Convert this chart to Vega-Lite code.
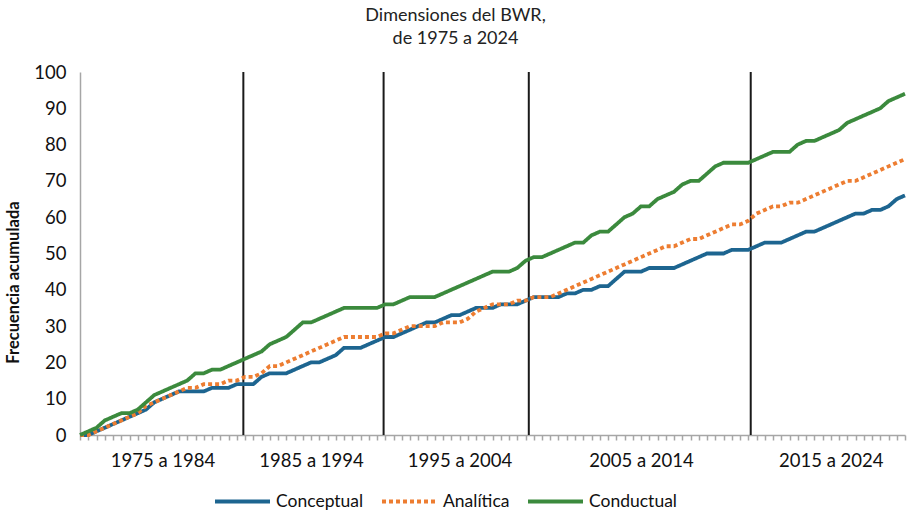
{
  "$schema": "https://vega.github.io/schema/vega-lite/v6.json",
  "width": 825,
  "height": 363,
  "autosize": {"type": "none"},
  "padding": {"left": 80, "top": 72, "right": 3, "bottom": 79},
  "background": "white",
  "title": {
    "text": ["Dimensiones del BWR,", "de 1975 a 2024"],
    "anchor": "middle",
    "dx": -37,
    "offset": 15,
    "font": "Lato",
    "fontSize": 18,
    "fontWeight": "normal",
    "color": "#222222",
    "lineHeight": 23
  },
  "config": {
    "view": {"stroke": null},
    "font": "Lato"
  },
  "datasets": {
    "series": [
      {"i":0,"Conceptual":0,"Analítica":0,"Conductual":0},
      {"i":1,"Conceptual":0,"Analítica":0,"Conductual":1},
      {"i":2,"Conceptual":1,"Analítica":1,"Conductual":2},
      {"i":3,"Conceptual":2,"Analítica":2,"Conductual":4},
      {"i":4,"Conceptual":3,"Analítica":3,"Conductual":5},
      {"i":5,"Conceptual":4,"Analítica":4,"Conductual":6},
      {"i":6,"Conceptual":5,"Analítica":5,"Conductual":6},
      {"i":7,"Conceptual":6,"Analítica":6,"Conductual":7},
      {"i":8,"Conceptual":7,"Analítica":8,"Conductual":9},
      {"i":9,"Conceptual":9,"Analítica":9,"Conductual":11},
      {"i":10,"Conceptual":10,"Analítica":10,"Conductual":12},
      {"i":11,"Conceptual":11,"Analítica":11,"Conductual":13},
      {"i":12,"Conceptual":12,"Analítica":12,"Conductual":14},
      {"i":13,"Conceptual":12,"Analítica":13,"Conductual":15},
      {"i":14,"Conceptual":12,"Analítica":13,"Conductual":17},
      {"i":15,"Conceptual":12,"Analítica":14,"Conductual":17},
      {"i":16,"Conceptual":13,"Analítica":14,"Conductual":18},
      {"i":17,"Conceptual":13,"Analítica":14,"Conductual":18},
      {"i":18,"Conceptual":13,"Analítica":15,"Conductual":19},
      {"i":19,"Conceptual":14,"Analítica":15,"Conductual":20},
      {"i":20,"Conceptual":14,"Analítica":16,"Conductual":21},
      {"i":21,"Conceptual":14,"Analítica":16,"Conductual":22},
      {"i":22,"Conceptual":16,"Analítica":17,"Conductual":23},
      {"i":23,"Conceptual":17,"Analítica":19,"Conductual":25},
      {"i":24,"Conceptual":17,"Analítica":19,"Conductual":26},
      {"i":25,"Conceptual":17,"Analítica":20,"Conductual":27},
      {"i":26,"Conceptual":18,"Analítica":21,"Conductual":29},
      {"i":27,"Conceptual":19,"Analítica":22,"Conductual":31},
      {"i":28,"Conceptual":20,"Analítica":23,"Conductual":31},
      {"i":29,"Conceptual":20,"Analítica":24,"Conductual":32},
      {"i":30,"Conceptual":21,"Analítica":25,"Conductual":33},
      {"i":31,"Conceptual":22,"Analítica":26,"Conductual":34},
      {"i":32,"Conceptual":24,"Analítica":27,"Conductual":35},
      {"i":33,"Conceptual":24,"Analítica":27,"Conductual":35},
      {"i":34,"Conceptual":24,"Analítica":27,"Conductual":35},
      {"i":35,"Conceptual":25,"Analítica":27,"Conductual":35},
      {"i":36,"Conceptual":26,"Analítica":27,"Conductual":35},
      {"i":37,"Conceptual":27,"Analítica":28,"Conductual":36},
      {"i":38,"Conceptual":27,"Analítica":28,"Conductual":36},
      {"i":39,"Conceptual":28,"Analítica":29,"Conductual":37},
      {"i":40,"Conceptual":29,"Analítica":30,"Conductual":38},
      {"i":41,"Conceptual":30,"Analítica":30,"Conductual":38},
      {"i":42,"Conceptual":31,"Analítica":30,"Conductual":38},
      {"i":43,"Conceptual":31,"Analítica":30,"Conductual":38},
      {"i":44,"Conceptual":32,"Analítica":31,"Conductual":39},
      {"i":45,"Conceptual":33,"Analítica":31,"Conductual":40},
      {"i":46,"Conceptual":33,"Analítica":31,"Conductual":41},
      {"i":47,"Conceptual":34,"Analítica":32,"Conductual":42},
      {"i":48,"Conceptual":35,"Analítica":34,"Conductual":43},
      {"i":49,"Conceptual":35,"Analítica":35,"Conductual":44},
      {"i":50,"Conceptual":35,"Analítica":36,"Conductual":45},
      {"i":51,"Conceptual":36,"Analítica":36,"Conductual":45},
      {"i":52,"Conceptual":36,"Analítica":36,"Conductual":45},
      {"i":53,"Conceptual":36,"Analítica":37,"Conductual":46},
      {"i":54,"Conceptual":37,"Analítica":37,"Conductual":48},
      {"i":55,"Conceptual":38,"Analítica":38,"Conductual":49},
      {"i":56,"Conceptual":38,"Analítica":38,"Conductual":49},
      {"i":57,"Conceptual":38,"Analítica":38,"Conductual":50},
      {"i":58,"Conceptual":38,"Analítica":39,"Conductual":51},
      {"i":59,"Conceptual":39,"Analítica":40,"Conductual":52},
      {"i":60,"Conceptual":39,"Analítica":41,"Conductual":53},
      {"i":61,"Conceptual":40,"Analítica":42,"Conductual":53},
      {"i":62,"Conceptual":40,"Analítica":43,"Conductual":55},
      {"i":63,"Conceptual":41,"Analítica":44,"Conductual":56},
      {"i":64,"Conceptual":41,"Analítica":45,"Conductual":56},
      {"i":65,"Conceptual":43,"Analítica":46,"Conductual":58},
      {"i":66,"Conceptual":45,"Analítica":47,"Conductual":60},
      {"i":67,"Conceptual":45,"Analítica":48,"Conductual":61},
      {"i":68,"Conceptual":45,"Analítica":49,"Conductual":63},
      {"i":69,"Conceptual":46,"Analítica":50,"Conductual":63},
      {"i":70,"Conceptual":46,"Analítica":51,"Conductual":65},
      {"i":71,"Conceptual":46,"Analítica":52,"Conductual":66},
      {"i":72,"Conceptual":46,"Analítica":52,"Conductual":67},
      {"i":73,"Conceptual":47,"Analítica":53,"Conductual":69},
      {"i":74,"Conceptual":48,"Analítica":54,"Conductual":70},
      {"i":75,"Conceptual":49,"Analítica":54,"Conductual":70},
      {"i":76,"Conceptual":50,"Analítica":55,"Conductual":72},
      {"i":77,"Conceptual":50,"Analítica":56,"Conductual":74},
      {"i":78,"Conceptual":50,"Analítica":57,"Conductual":75},
      {"i":79,"Conceptual":51,"Analítica":58,"Conductual":75},
      {"i":80,"Conceptual":51,"Analítica":58,"Conductual":75},
      {"i":81,"Conceptual":51,"Analítica":59,"Conductual":75},
      {"i":82,"Conceptual":52,"Analítica":61,"Conductual":76},
      {"i":83,"Conceptual":53,"Analítica":62,"Conductual":77},
      {"i":84,"Conceptual":53,"Analítica":63,"Conductual":78},
      {"i":85,"Conceptual":53,"Analítica":63,"Conductual":78},
      {"i":86,"Conceptual":54,"Analítica":64,"Conductual":78},
      {"i":87,"Conceptual":55,"Analítica":64,"Conductual":80},
      {"i":88,"Conceptual":56,"Analítica":65,"Conductual":81},
      {"i":89,"Conceptual":56,"Analítica":66,"Conductual":81},
      {"i":90,"Conceptual":57,"Analítica":67,"Conductual":82},
      {"i":91,"Conceptual":58,"Analítica":68,"Conductual":83},
      {"i":92,"Conceptual":59,"Analítica":69,"Conductual":84},
      {"i":93,"Conceptual":60,"Analítica":70,"Conductual":86},
      {"i":94,"Conceptual":61,"Analítica":70,"Conductual":87},
      {"i":95,"Conceptual":61,"Analítica":71,"Conductual":88},
      {"i":96,"Conceptual":62,"Analítica":72,"Conductual":89},
      {"i":97,"Conceptual":62,"Analítica":73,"Conductual":90},
      {"i":98,"Conceptual":63,"Analítica":74,"Conductual":92},
      {"i":99,"Conceptual":65,"Analítica":75,"Conductual":93},
      {"i":100,"Conceptual":66,"Analítica":76,"Conductual":94}
    ],
    "bounds": [{"b": 19.8}, {"b": 36.8}, {"b": 54.4}, {"b": 81.3}]
  },
  "layer": [
    {
      "data": {"name": "bounds"},
      "mark": {"type": "rule", "color": "#1a1a1a", "strokeWidth": 2},
      "encoding": {
        "x": {"field": "b", "type": "quantitative"}
      }
    },
    {
      "data": {"name": "series"},
      "transform": [
        {"fold": ["Conceptual", "Analítica", "Conductual"], "as": ["serie", "v"]}
      ],
      "mark": {"type": "line", "strokeWidth": 3.8, "strokeCap": "butt"},
      "encoding": {
        "x": {
          "field": "i",
          "type": "quantitative",
          "scale": {"domain": [0, 100], "nice": false, "zero": false},
          "axis": {
            "title": null,
            "grid": false,
            "tickCount": 100,
            "domainColor": "#a6a6a6",
            "domainWidth": 1.5,
            "tickColor": "#a6a6a6",
            "tickWidth": 1.5,
            "tickSize": 5,
            "labelExpr": "datum.value == 10 ? '1975 a 1984' : datum.value == 28 ? '1985 a 1994' : datum.value == 46 ? '1995 a 2004' : datum.value == 68 ? '2005 a 2014' : datum.value == 91 ? '2015 a 2024' : ''",
            "labelOverlap": false,
            "labelBound": false,
            "labelFlush": false,
            "labelFont": "Lato",
            "labelFontSize": 18.5,
            "labelColor": "#111111",
            "labelPadding": 11
          }
        },
        "y": {
          "field": "v",
          "type": "quantitative",
          "scale": {"domain": [0, 100], "nice": false},
          "axis": {
            "title": "Frecuencia acumulada",
            "titleFont": "Lato",
            "titleFontSize": 16.5,
            "titleFontWeight": "bold",
            "titleColor": "#111111",
            "titlePadding": 12,
            "titleY": 210,
            "values": [0, 10, 20, 30, 40, 50, 60, 70, 80, 90, 100],
            "grid": false,
            "ticks": false,
            "domainColor": "#a6a6a6",
            "domainWidth": 1.5,
            "labelFont": "Lato",
            "labelFontSize": 18.5,
            "labelColor": "#111111",
            "labelPadding": 14
          }
        },
        "color": {
          "field": "serie",
          "type": "nominal",
          "scale": {
            "domain": ["Conceptual", "Analítica", "Conductual"],
            "range": ["#1d6590", "#ed7d31", "#3b8a3d"]
          },
          "legend": {
            "title": null,
            "orient": "none",
            "direction": "horizontal",
            "legendX": 133,
            "legendY": 400,
            "symbolType": "stroke",
            "symbolSize": 3025,
            "symbolStrokeWidth": 4,
            "labelFont": "Lato",
            "labelFontSize": 17.5,
            "labelColor": "#111111",
            "labelOffset": 4,
            "columnPadding": 10
          }
        },
        "strokeDash": {
          "field": "serie",
          "type": "nominal",
          "scale": {
            "domain": ["Conceptual", "Analítica", "Conductual"],
            "range": [[1, 0], [4, 3], [1, 0]]
          },
          "legend": null
        }
      }
    }
  ]
}
